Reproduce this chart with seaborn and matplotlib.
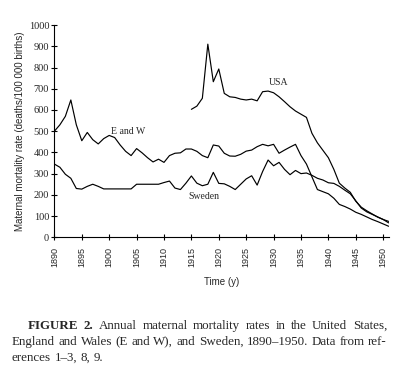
import numpy as np
import pandas as pd
import seaborn as sns
import matplotlib.pyplot as plt

# Annual maternal mortality (deaths / 100 000 births)
years_ew = list(range(1890, 1952))
ew = [500, 530, 570, 647, 530, 455, 494, 460, 440, 465,
      480, 470, 435, 405, 385, 418, 398, 375, 355, 368,
      353, 385, 396, 398, 416, 416, 405, 385, 375, 435,
      430, 396, 383, 382, 391, 406, 411, 427, 438, 431,
      438, 396, 411, 425, 438, 385, 345, 285, 225, 215,
      205, 184, 155, 145, 133, 118, 108, 96, 84, 74,
      63, 52]

years_sweden = list(range(1890, 1952))
sweden = [345, 330, 297, 278, 230, 227, 240, 250, 240, 228,
          228, 228, 228, 228, 228, 250, 250, 250, 250, 250,
          258, 265, 232, 225, 255, 289, 255, 243, 250, 306,
          254, 252, 240, 225, 250, 275, 290, 246, 310, 364,
          337, 353, 320, 295, 315, 300, 303, 292, 278, 270,
          257, 254, 240, 222, 205, 172, 138, 120, 108, 96,
          84, 68]

years_usa = list(range(1915, 1952))
usa = [603, 618, 655, 910, 733, 793, 678, 662, 659, 651,
       647, 651, 643, 686, 689, 681, 662, 639, 615, 595,
       580, 565, 490, 445, 410, 375, 320, 255, 232, 212,
       170, 142, 125, 110, 95, 84, 75]

labels = {'USA': (1931, 728), 'E and W': (1903.4, 500), 'Sweden': (1917.3, 191)}
xticks = list(range(1890, 1951, 5))
yticks = list(range(0, 1001, 100))

caption = [
    [('FIGURE', True), ('2.', True), ('Annual', False), ('maternal', False), ('mortality', False),
     ('rates', False), ('in', False), ('the', False), ('United', False), ('States,', False)],
    [(w, False) for w in 'England and Wales (E and W), and Sweden, 1890\u20131950. Data from ref-'.split()],
    [(w, False) for w in 'erences 1\u20133, 8, 9.'.split()],
]


def draw_line(fig, words, x0, x1, y, justify, size=9.4):
    r = fig.canvas.get_renderer()
    texts = []
    for w, bold in words:
        t = fig.text(0, y, w, fontsize=size, family='Liberation Serif',
                     fontweight='bold' if bold else 'normal', va='baseline', ha='left')
        texts.append(t)
    figw = fig.bbox.width
    widths = [t.get_window_extent(r).width / figw for t in texts]
    if justify:
        gap = (x1 - x0 - sum(widths)) / (len(words) - 1)
    else:
        gap = 0.25 * size * fig.dpi / 72 / figw
    x = x0
    for t, w in zip(texts, widths):
        t.set_x(x)
        x += w + gap


sns.set_theme(style='ticks')
plt.rcParams['font.family'] = ['Liberation Sans', 'DejaVu Sans']

df = pd.concat([
    pd.DataFrame({'Year': years_ew, 'Rate': ew, 'Country': 'E and W'}),
    pd.DataFrame({'Year': years_sweden, 'Rate': sweden, 'Country': 'Sweden'}),
    pd.DataFrame({'Year': years_usa, 'Rate': usa, 'Country': 'USA'}),
])

fig = plt.figure(figsize=(4, 3.74), dpi=100)
ax = fig.add_axes([0.136, 0.3655, 0.837, 0.5675])
sns.lineplot(data=df, x='Year', y='Rate', hue='Country', estimator=None,
             palette=['black'] * 3, linewidth=0.85, legend=False, ax=ax)

for name, (x, y) in labels.items():
    ax.text(x, y, name, family='Liberation Serif', fontsize=7, ha='center', va='center')

ax.set_xlim(1890, 1951.1)
ax.set_ylim(0, 1000)
ax.set_xticks(xticks)
ax.set_yticks(yticks)
ax.set_xticklabels([str(t) for t in xticks], rotation=90, fontsize=6.5)
ax.set_yticklabels([str(t) for t in yticks], family='Liberation Serif', fontsize=7.5)
ax.tick_params(axis='both', direction='inout', length=4.5, width=0.8, color='black')
ax.tick_params(axis='x', pad=5)
ax.tick_params(axis='y', pad=1.5)
sns.despine(ax=ax)
for s in ['left', 'bottom']:
    ax.spines[s].set_color('black')
    ax.spines[s].set_linewidth(0.8)
ax.set_xlabel('Time (y)', fontsize=7, labelpad=7)
ax.set_ylabel('Maternal mortality rate (deaths/100 000 births)', fontsize=7, labelpad=3)

draw_line(fig, caption[0], 28 / 400, 387 / 400, 1 - 329 / 374, True)
draw_line(fig, caption[1], 12 / 400, 387 / 400, 1 - 345 / 374, True)
draw_line(fig, caption[2], 12 / 400, 387 / 400, 1 - 361 / 374, False)

fig.savefig('out.png', dpi=100, facecolor='white')
